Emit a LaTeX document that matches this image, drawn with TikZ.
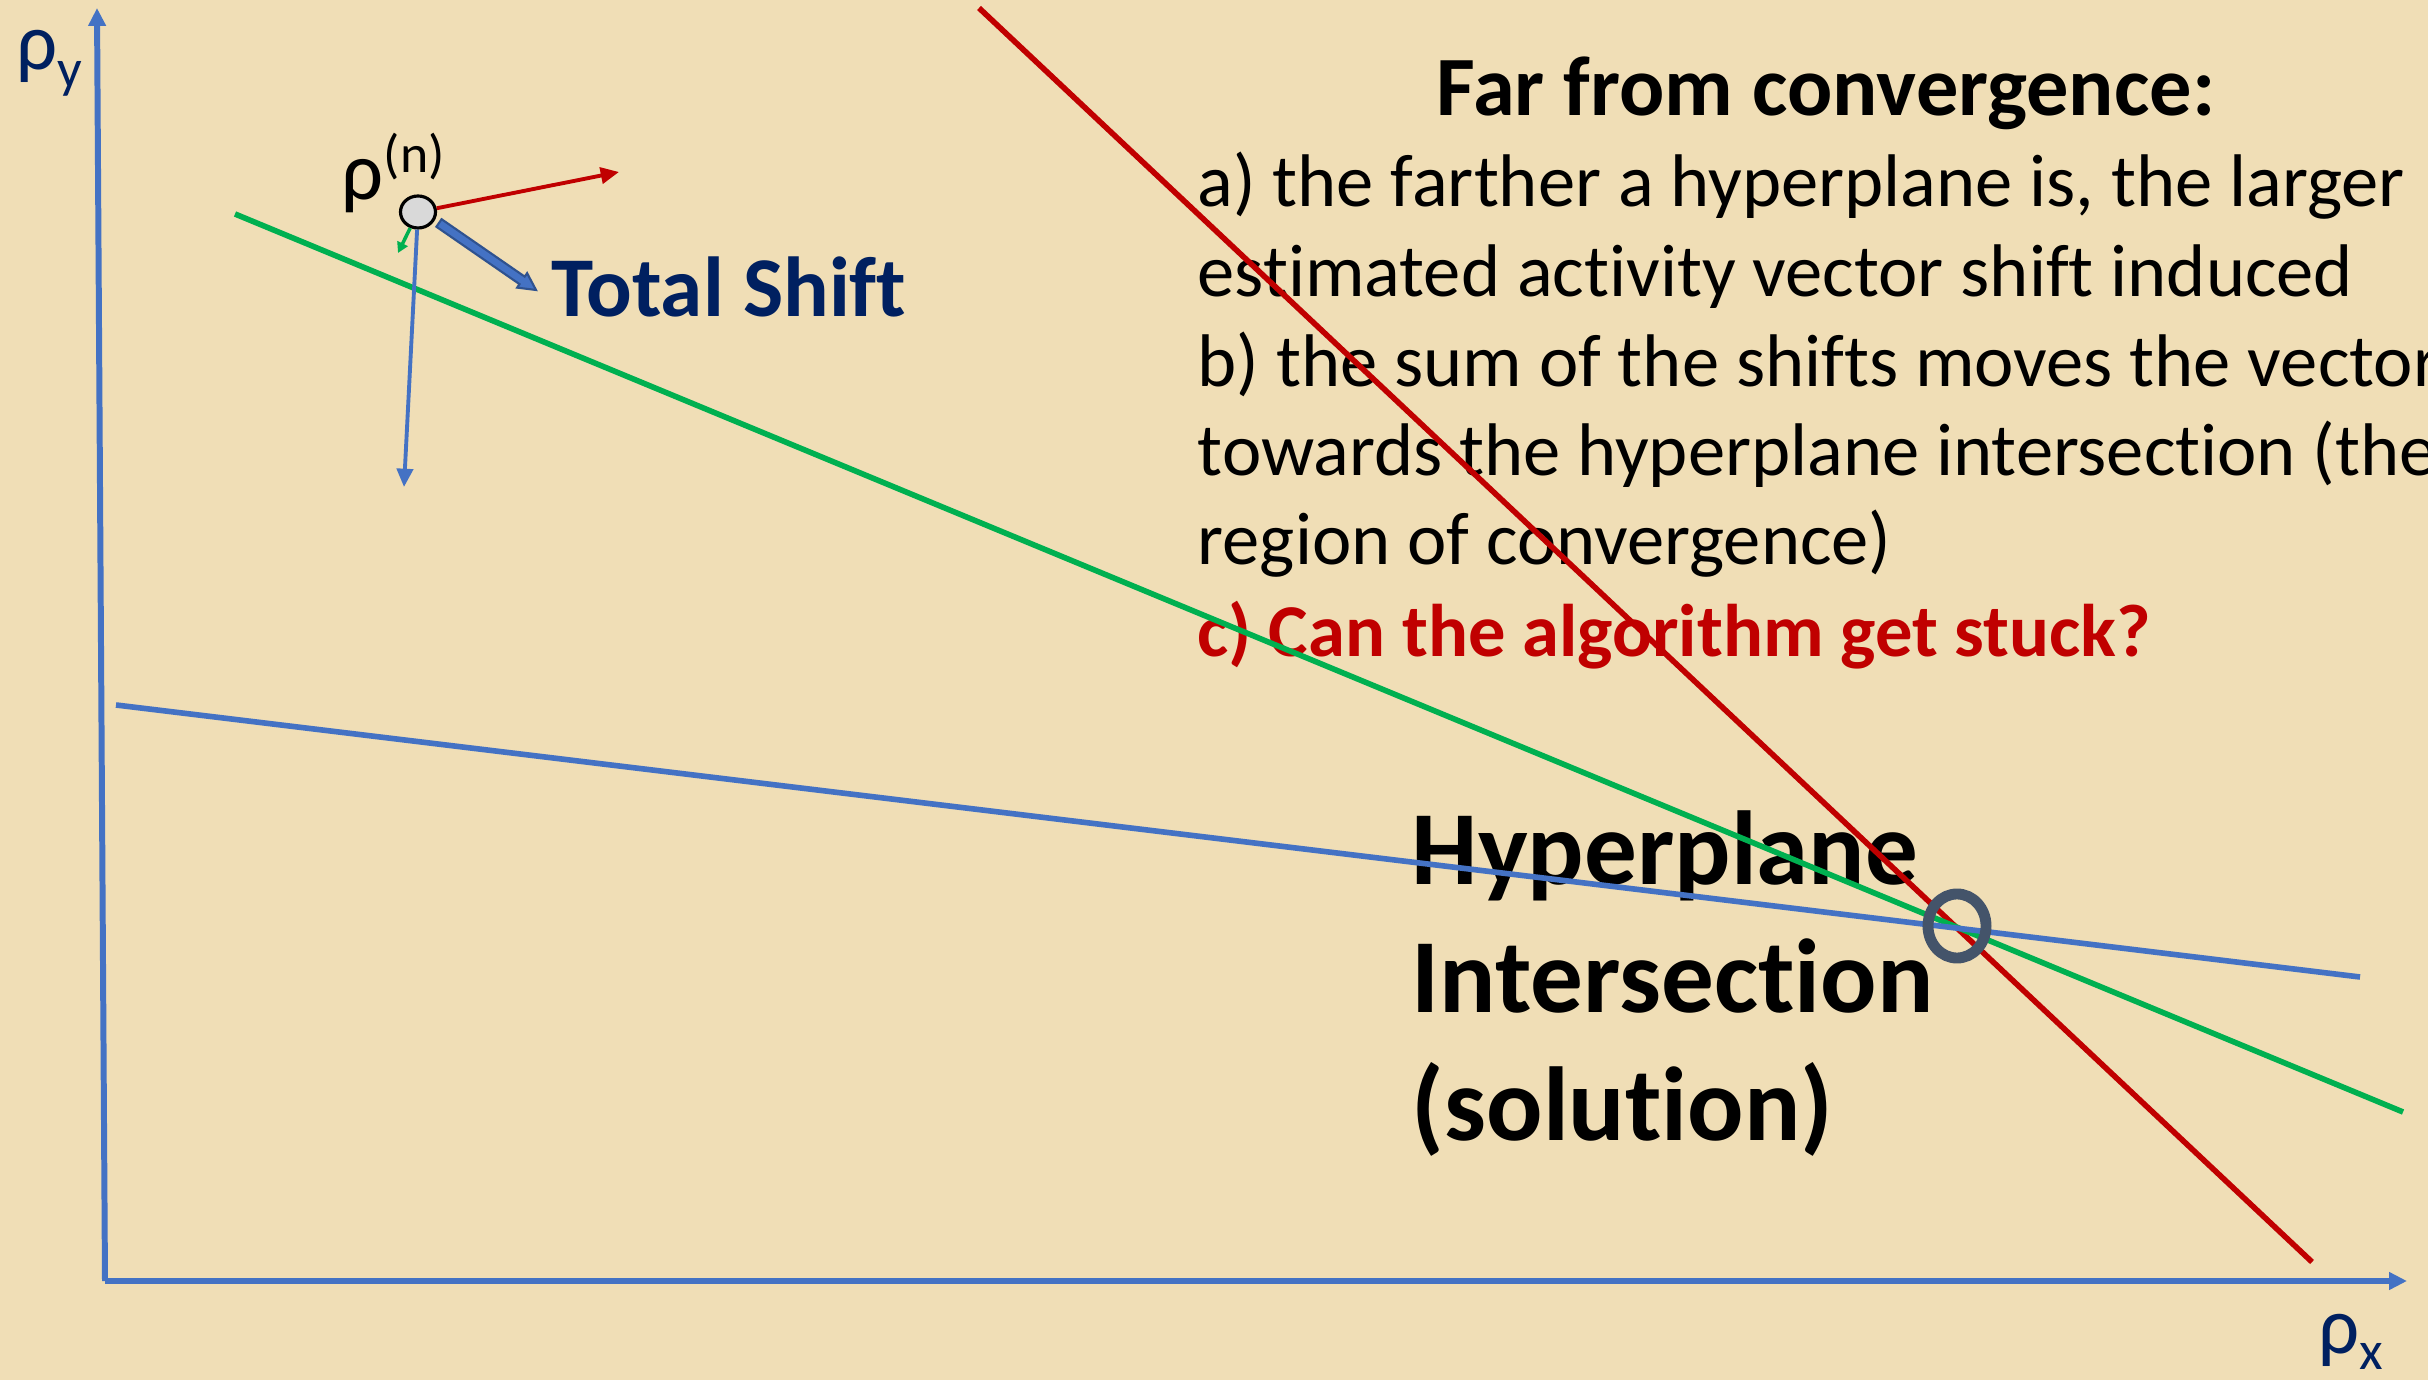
\documentclass[tikz,border=0pt]{standalone}
\usepackage{fontspec}
\setmainfont{Carlito}[Ligatures={NoCommon}]
\usetikzlibrary{arrows.meta,calc,shapes.geometric}
\definecolor{bg}{RGB}{240,222,182}
\definecolor{axblue}{HTML}{4472C4}
\definecolor{hred}{HTML}{C00000}
\definecolor{hgreen}{HTML}{00B050}
\definecolor{navy}{HTML}{002060}
\definecolor{slate}{HTML}{44546A}
\definecolor{tsout}{HTML}{2F528F}
\definecolor{ptgray}{HTML}{D9D9D9}
\begin{document}
\begin{tikzpicture}[x=0.01cm,y=-0.01cm,
  txt/.style={inner sep=0pt, anchor=base west},
  body/.style={txt, font=\fontsize{21.2pt}{25pt}\selectfont},
  axisline/.style={axblue, line width=1.7pt, -{Triangle[length=5.1pt,width=4.8pt]}},
  plane/.style={line width=1.6pt},
  shiftarrow/.style={line width=1.1pt, -{Triangle[length=5.2pt,width=4.6pt]}},
]
\useasboundingbox (0,0) rectangle (2428,1380);
\fill[bg] (0,0) rectangle (2428,1380);
\clip (0,0) rectangle (2428,1380);

% texts
\node[txt, anchor=base, font=\bfseries\fontsize{24pt}{28pt}\selectfont] (title) at (1826,116) {Far from convergence:};
\node[body] (la) at (1197,207) {a) the farther a hyperplane is, the larger};
\node[body] (lb) at (1197,297) {estimated activity vector shift induced};
\node[body] (lc) at (1197,387) {b) the sum of the shifts moves the vector};
\node[body] (ld) at (1197,476) {towards the hyperplane intersection (the};
\node[body] (le) at (1197,565) {region of convergence)};
\node[body, font=\bfseries\fontsize{21.2pt}{25pt}\selectfont, text=hred] (lq) at (1197,657) {c) Can the algorithm get stuck?};

\node[txt, font=\bfseries\fontsize{29.9pt}{36pt}\selectfont] (h1) at (1411,885) {Hyperplane};
\node[txt, font=\bfseries\fontsize{29.9pt}{36pt}\selectfont] (h2) at (1411,1012) {Intersection};
\node[txt, font=\bfseries\fontsize{29.9pt}{36pt}\selectfont] (h3) at (1411,1140) {(solution)};

\node[txt, font=\bfseries\fontsize{24.2pt}{28pt}\selectfont, text=navy] (tslab) at (551,317) {Total Shift};

\node[txt, font=\fontsize{23.5pt}{27pt}\selectfont] (rholab) at (341,200) {ρ\raisebox{7.7pt}{\fontsize{15.3pt}{18pt}\selectfont (n)}};
\node[txt, text=navy, font=\fontsize{23pt}{27pt}\selectfont] (ylab) at (16,70) {ρ\raisebox{-5pt}{\fontsize{15.5pt}{18pt}\selectfont y}};
\node[txt, text=navy, font=\fontsize{23pt}{27pt}\selectfont] (xlab) at (2318,1353) {ρ\raisebox{-4.8pt}{\fontsize{15.5pt}{18pt}\selectfont x}};

% axes
\coordinate (o) at (105,1281);
\coordinate (ytip) at (97,8);
\coordinate (xtip) at (2407,1281);
\draw[axisline] (o) -- (ytip);
\draw[axisline] (o) -- (xtip);

% hyperplanes
\coordinate (r0) at (979,8);
\coordinate (r1) at (2312,1262);
\coordinate (g0) at (235,214);
\coordinate (g1) at (2403,1112);
\coordinate (b0) at (116,705);
\coordinate (b1) at (2360,977);
\draw[plane, hred] (r0) -- (r1);
\draw[plane, hgreen] (g0) -- (g1);
\draw[plane, axblue] (b0) -- (b1);

% intersection ring
\node[ellipse, draw=slate, line width=3.1pt, minimum width=0.58cm, minimum height=0.64cm, inner sep=0pt] (sol) at (1957,926) {};

% current estimate and shifts
\node[ellipse, draw=black, fill=ptgray, line width=0.9pt, minimum width=0.35cm, minimum height=0.32cm, inner sep=0pt] (rho) at (418,212) {};
\coordinate (redtip) at (619,172);
\coordinate (bluetip) at (404,487);
\coordinate (greentip) at (398,253);
\draw[shiftarrow, hred] (rho) -- (redtip);
\draw[shiftarrow, axblue] (rho) -- (bluetip);
\draw[hgreen, line width=1pt, -{Triangle[length=3pt,width=3.2pt]}] (rho) -- (greentip);

\coordinate (ts0) at (439,223);
\coordinate (ts1) at (536,290);
\coordinate (tsh) at ($(ts1)!4.8pt!(ts0)$);
\filldraw[fill=axblue, draw=tsout, line width=0.6pt, line join=miter]
  ($(ts0)!1.3pt!90:(ts1)$) -- ($(tsh)!1.3pt!90:(ts1)$) -- ($(tsh)!2.5pt!90:(ts1)$) -- (ts1)
  -- ($(tsh)!2.5pt!-90:(ts1)$) -- ($(tsh)!1.3pt!-90:(ts1)$) -- ($(ts0)!1.3pt!-90:(ts1)$) -- cycle;
\end{tikzpicture}
\end{document}
